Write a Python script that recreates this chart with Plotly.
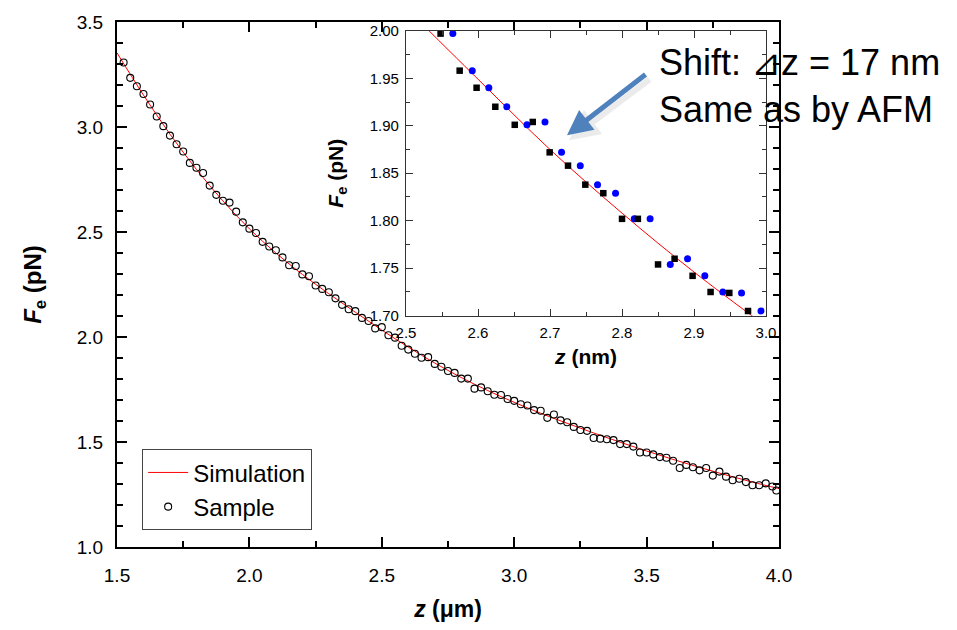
import plotly.graph_objects as go

# ---- main panel: sampled force vs. distance ----
z_sample = [
    1.525, 1.550, 1.575, 1.600, 1.625, 1.650, 1.675, 1.700, 1.725, 1.750,
    1.775, 1.800, 1.825, 1.850, 1.875, 1.900, 1.925, 1.950, 1.975, 2.000,
    2.025, 2.050, 2.075, 2.100, 2.125, 2.150, 2.175, 2.200, 2.225, 2.250,
    2.275, 2.300, 2.325, 2.350, 2.375, 2.400, 2.425, 2.450, 2.475, 2.500,
    2.525, 2.550, 2.575, 2.600, 2.625, 2.650, 2.675, 2.700, 2.725, 2.750,
    2.775, 2.800, 2.825, 2.850, 2.875, 2.900, 2.925, 2.950, 2.975, 3.000,
    3.025, 3.050, 3.075, 3.100, 3.125, 3.150, 3.175, 3.200, 3.225, 3.250,
    3.275, 3.300, 3.325, 3.350, 3.375, 3.400, 3.425, 3.450, 3.475, 3.500,
    3.525, 3.550, 3.575, 3.600, 3.625, 3.650, 3.675, 3.700, 3.725, 3.750,
    3.775, 3.800, 3.825, 3.850, 3.875, 3.900, 3.925, 3.950, 3.975, 3.990,
]
f_sample = [
    3.307, 3.234, 3.194, 3.157, 3.107, 3.050, 3.004, 2.959, 2.918, 2.883,
    2.829, 2.806, 2.781, 2.721, 2.677, 2.649, 2.640, 2.597, 2.546, 2.516,
    2.495, 2.453, 2.431, 2.413, 2.379, 2.342, 2.338, 2.298, 2.289, 2.245,
    2.229, 2.213, 2.184, 2.153, 2.132, 2.123, 2.091, 2.076, 2.041, 2.047,
    2.008, 1.997, 1.958, 1.940, 1.920, 1.901, 1.904, 1.872, 1.858, 1.838,
    1.829, 1.802, 1.802, 1.754, 1.760, 1.742, 1.725, 1.724, 1.705, 1.696,
    1.680, 1.674, 1.652, 1.649, 1.615, 1.631, 1.603, 1.594, 1.572, 1.557,
    1.553, 1.519, 1.516, 1.513, 1.509, 1.490, 1.490, 1.478, 1.450, 1.450,
    1.441, 1.428, 1.425, 1.411, 1.376, 1.391, 1.380, 1.365, 1.376, 1.340,
    1.359, 1.335, 1.318, 1.325, 1.309, 1.294, 1.294, 1.303, 1.288, 1.269,
]

z_sim = [1.5, 1.6, 1.7, 1.8, 1.9, 2.0, 2.1, 2.2, 2.3, 2.4, 2.5, 2.6, 2.7,
         2.8, 2.9, 3.0, 3.1, 3.2, 3.3, 3.4, 3.5, 3.6, 3.7, 3.8, 3.9, 4.0]
f_sim = [3.353, 3.152, 2.966, 2.798, 2.648, 2.515, 2.400, 2.298, 2.206,
         2.118, 2.033, 1.952, 1.876, 1.807, 1.745, 1.689, 1.637, 1.589,
         1.543, 1.499, 1.457, 1.417, 1.379, 1.343, 1.309, 1.278]

# ---- inset: measured points and the shifted copy ----
z_measured = [2.548, 2.5745, 2.598, 2.624, 2.651, 2.676, 2.6995, 2.725, 2.749,
              2.774, 2.800, 2.822, 2.850, 2.873, 2.898, 2.923, 2.949, 2.975]
z_shifted = [2.565, 2.592, 2.615, 2.640, 2.668, 2.693, 2.716, 2.742, 2.766,
             2.791, 2.817, 2.839, 2.867, 2.891, 2.915, 2.940, 2.966, 2.993]
f_inset = [1.997, 1.958, 1.940, 1.920, 1.901, 1.904, 1.872, 1.858, 1.838,
           1.829, 1.802, 1.802, 1.754, 1.760, 1.742, 1.725, 1.724, 1.705]

z_inset_sim = [2.50, 2.60, 2.70, 2.80, 2.90, 3.00]
f_inset_sim = [2.024, 1.949, 1.875, 1.808, 1.746, 1.689]

FONT = "Liberation Sans, Arial, sans-serif"

fig = go.Figure()

fig.add_trace(go.Scatter(
    x=z_sim, y=f_sim, mode="lines", name="Simulation",
    line=dict(color="#ff0000", width=1, shape="spline"),
    xaxis="x", yaxis="y",
))
fig.add_trace(go.Scatter(
    x=z_sample, y=f_sample, mode="markers", name="Sample",
    marker=dict(symbol="circle-open", size=7, color="black",
                line=dict(width=1.1, color="black")),
    xaxis="x", yaxis="y", cliponaxis=False,
))

fig.add_trace(go.Scatter(
    x=z_inset_sim, y=f_inset_sim, mode="lines", showlegend=False,
    line=dict(color="#ff0000", width=1, shape="spline"),
    xaxis="x2", yaxis="y2",
))
fig.add_trace(go.Scatter(
    x=z_shifted, y=f_inset, mode="markers", showlegend=False,
    marker=dict(symbol="circle", size=7, color="#0000ff"),
    xaxis="x2", yaxis="y2", cliponaxis=False,
))
fig.add_trace(go.Scatter(
    x=z_measured, y=f_inset, mode="markers", showlegend=False,
    marker=dict(symbol="square", size=6.5, color="black"),
    xaxis="x2", yaxis="y2", cliponaxis=False,
))

main_axis = dict(
    showline=True, linecolor="black", linewidth=2, mirror="ticks",
    ticks="inside", ticklen=10, tickwidth=1.5, tickcolor="black",
    showgrid=False, zeroline=False,
    tickfont=dict(family=FONT, size=19, color="black"),
)
inset_axis = dict(
    showline=True, linecolor="#333333", linewidth=1.2, mirror="ticks",
    ticks="inside", ticklen=7, tickwidth=1, tickcolor="#333333",
    showgrid=False, zeroline=False,
    tickfont=dict(family=FONT, size=15, color="black"),
    ticklabelstandoff=3,
)

fig.update_layout(
    width=957, height=630,
    margin=dict(l=117, r=178, t=19, b=73),
    paper_bgcolor="white", plot_bgcolor="white",
    font=dict(family=FONT, color="black"),
    xaxis=dict(
        **main_axis, range=[1.5, 4.0], dtick=0.5, tick0=1.5, tickformat=".1f",
        ticklabelstandoff=10,
        minor=dict(ticks="inside", ticklen=6, dtick=0.25, tickcolor="black",
                   tickwidth=1.5),
        title=dict(text="<b><i>z</i> (μm)</b>", standoff=16,
                   font=dict(family=FONT, size=23, color="black")),
        domain=[0, 1], anchor="y",
    ),
    yaxis=dict(
        **main_axis, range=[1.0, 3.5], dtick=0.5, tick0=1.0, tickformat=".1f",
        ticklabelstandoff=8,
        minor=dict(ticks="inside", ticklen=6, dtick=0.1, tickcolor="black",
                   tickwidth=1.5),
        title=dict(text="<b><i>F</i><sub>e</sub> (pN)</b>", standoff=28,
                   font=dict(family=FONT, size=24, color="black")),
        domain=[0, 1], anchor="x",
    ),
    xaxis2=dict(
        **inset_axis, range=[2.5, 3.0], dtick=0.1, tick0=2.5, tickformat=".1f",
        minor=dict(ticks="inside", ticklen=4, dtick=0.05, tickcolor="#333333"),
        title=dict(text="<b><i>z</i> (nm)</b>", standoff=9,
                   font=dict(family=FONT, size=21, color="black")),
        domain=[0.4366, 0.9804], anchor="y2",
    ),
    yaxis2=dict(
        **inset_axis, range=[1.70, 2.00], dtick=0.05, tick0=1.70,
        tickformat=".2f",
        minor=dict(ticks="inside", ticklen=4, dtick=0.025, tickcolor="#333333"),
        title=dict(text="<b><i>F</i><sub>e</sub> (pN)</b>", standoff=20,
                   font=dict(family=FONT, size=21, color="black")),
        domain=[0.4405, 0.9833], anchor="x2",
    ),
    legend=dict(
        x=0.038, y=0.186, xanchor="left", yanchor="top",
        bgcolor="white", bordercolor="#444444", borderwidth=1,
        font=dict(family=FONT, size=24, color="black"),
        tracegroupgap=0, itemwidth=40,
    ),
    showlegend=True,
)

# arrow pointing at the shifted points, with a soft drop shadow
fig.add_annotation(
    x=2.7236, y=1.888, xref="x2", yref="y2", ax=82, ay=-62,
    showarrow=True, arrowhead=2, arrowsize=1.0, arrowwidth=6,
    arrowcolor="rgba(150,150,150,0.18)", text="", xshift=2, yshift=-3,
)
fig.add_annotation(
    x=2.7236, y=1.890, xref="x2", yref="y2", ax=80, ay=-62,
    showarrow=True, arrowhead=2, arrowsize=1.0, arrowwidth=5,
    arrowcolor="#4f81bd", text="",
)

fig.add_annotation(
    x=0.815, y=0.966, xref="paper", yref="paper",
    xanchor="left", yanchor="top", showarrow=False, align="left",
    text="Shift: ⊿z = 17 nm<br>Same as by AFM",
    font=dict(family=FONT, size=36, color="black"),
)

fig.write_html("out.html")
